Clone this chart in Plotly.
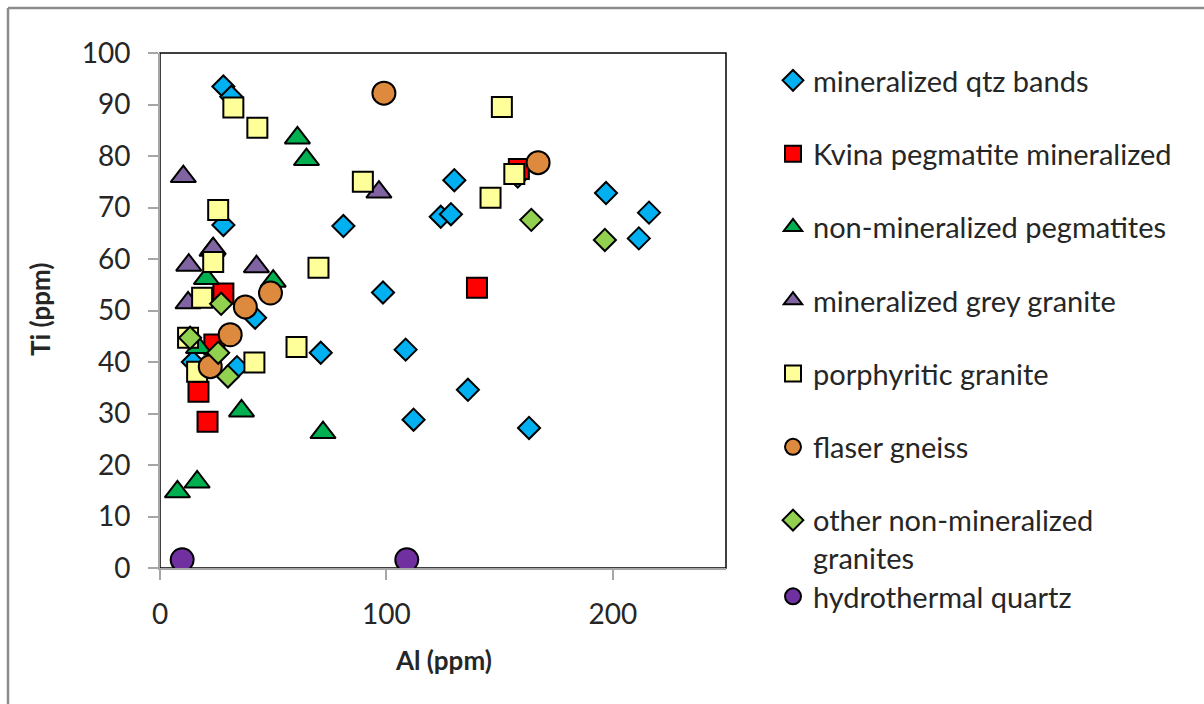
import plotly.graph_objects as go

# ---------------- data ----------------
qtz_x = [28, 31.5, 28, 81, 130, 124, 128.5, 197, 216, 211.5, 42, 71, 108.5, 98.5, 112, 136, 163, 34, 14.5, 158]
qtz_y = [93.5, 91.5, 66.6, 66.4, 75.3, 68.2, 68.7, 72.8, 69, 64, 48.6, 41.8, 42.4, 53.5, 28.8, 34.6, 27.2, 39, 40, 76]

kvina_x = [158.5, 140, 28, 24, 17, 21]
kvina_y = [77.5, 54.4, 53.3, 43.4, 34.2, 28.4]

peg_x = [60.7, 64.7, 23, 20.5, 50, 17, 36, 72, 7.7, 16.4]
peg_y = [83.5, 79.3, 61.7, 56.2, 55.7, 42.8, 30.5, 26.3, 14.8, 16.7]

grey_x = [10.3, 12.7, 42.6, 96.7, 23.5, 12.4]
grey_y = [76, 58.8, 58.5, 73, 62, 51.5]

porph_x = [32.4, 43, 25.7, 23.5, 18.6, 70, 89.6, 151, 146, 156.5, 60.3, 41.7, 16.4, 12.4]
porph_y = [89.4, 85.5, 69.5, 59.4, 52.5, 58.3, 75, 89.5, 71.9, 76.5, 42.9, 39.9, 38.1, 44.7]

flaser_x = [98.9, 167, 48.8, 37.7, 31, 22.2]
flaser_y = [92.2, 78.7, 53.4, 50.7, 45.3, 39.1]

other_x = [27, 13.3, 25.7, 30, 164, 196.5]
other_y = [51.3, 44.7, 41.8, 37.2, 67.6, 63.7]

hydro_x = [9.8, 109]
hydro_y = [1.6, 1.6]

names = ["mineralized qtz bands", "Kvina pegmatite mineralized", "non-mineralized pegmatites",
         "mineralized grey granite", "porphyritic granite", "flaser gneiss",
         "other non-mineralized<br>granites", "hydrothermal quartz"]

x_ticks = [0, 100, 200]
y_ticks = [0, 10, 20, 30, 40, 50, 60, 70, 80, 90, 100]

# ---------------- layout geometry ----------------
W, H = 1204, 704
L, R, T, B = 160, 726, 53, 568

def px_x(p):
    return (p - L) / (R - L)

def px_y(p):
    return (B - p) / (B - T)

FONT = "Lato"
TXT = "#262626"
series = [
    (qtz_x, qtz_y, "diamond", "#00B0F0", 17),
    (kvina_x, kvina_y, "square", "#FF0000", 20),
    (peg_x, peg_y, "triangle-up", "#00B050", 22),
    (grey_x, grey_y, "triangle-up", "#8064A2", 22),
    (porph_x, porph_y, "square", "#FFFF99", 20),
    (flaser_x, flaser_y, "circle", "#DD8A3E", 23),
    (other_x, other_y, "diamond", "#92D050", 17),
    (hydro_x, hydro_y, "circle", "#7030A0", 23),
]

fig = go.Figure()
for i, (xs, ys, sym, col, sz) in enumerate(series):
    fig.add_trace(go.Scatter(
        x=xs, y=ys, mode="markers", name=names[i],
        marker=dict(symbol=sym, color=col, size=sz, line=dict(color="black", width=2)),
        legendgroup=f"g{i}",
        legend="legend2" if i == 7 else "legend",
        hoverinfo="x+y+name",
    ))

axis_common = dict(
    showgrid=False, zeroline=False, showline=True, linecolor="#A6A6A6", linewidth=2,
    ticks="outside", ticklen=10, tickwidth=1.5, tickcolor="#A6A6A6",
    tickfont=dict(family=FONT, size=28, color=TXT),
)

fig.update_layout(
    width=W, height=H, autosize=False,
    margin=dict(l=L, r=W - R, t=T, b=H - B, pad=0),
    paper_bgcolor="white", plot_bgcolor="white",
    xaxis=dict(range=[0, 250], tickvals=x_ticks, ticklabelstandoff=10, **axis_common),
    yaxis=dict(range=[0, 100], tickvals=y_ticks, ticklabelstandoff=12, **axis_common),
    legend=dict(
        x=px_x(773), y=px_y(55), xanchor="left", yanchor="top",
        font=dict(family=FONT, size=29, color=TXT),
        traceorder="grouped", tracegroupgap=32.6, valign="top",
        bgcolor="rgba(0,0,0,0)", maxheight=1000,
    ),
    legend2=dict(
        x=px_x(773), y=px_y(571), xanchor="left", yanchor="top",
        font=dict(family=FONT, size=29, color=TXT),
        bgcolor="rgba(0,0,0,0)", maxheight=1000,
    ),
    showlegend=True,
    annotations=[
        dict(text="<b>Ti (ppm)</b>", textangle=-90, xref="paper", yref="paper",
             x=px_x(40), y=px_y(310), xanchor="center", yanchor="middle", showarrow=False,
             font=dict(family=FONT, size=26, color=TXT)),
        dict(text="<b>Al (ppm)</b>", xref="paper", yref="paper",
             x=px_x(443), y=px_y(660), xanchor="center", yanchor="middle", showarrow=False,
             font=dict(family=FONT, size=26, color=TXT)),
    ],
    shapes=[
        # plot area frame (top/right black)
        dict(type="rect", xref="paper", yref="paper", x0=0, x1=1, y0=0, y1=1,
             line=dict(color="black", width=1.5), layer="below"),
        # outer chart border (top and left)
        dict(type="line", xref="paper", yref="paper", x0=px_x(8), x1=px_x(1210),
             y0=px_y(8), y1=px_y(8), line=dict(color="#8C8C8C", width=2.5)),
        dict(type="line", xref="paper", yref="paper", x0=px_x(8), x1=px_x(8),
             y0=px_y(8), y1=px_y(710), line=dict(color="#8C8C8C", width=2.5)),
    ],
)

fig.write_html("out.html")
